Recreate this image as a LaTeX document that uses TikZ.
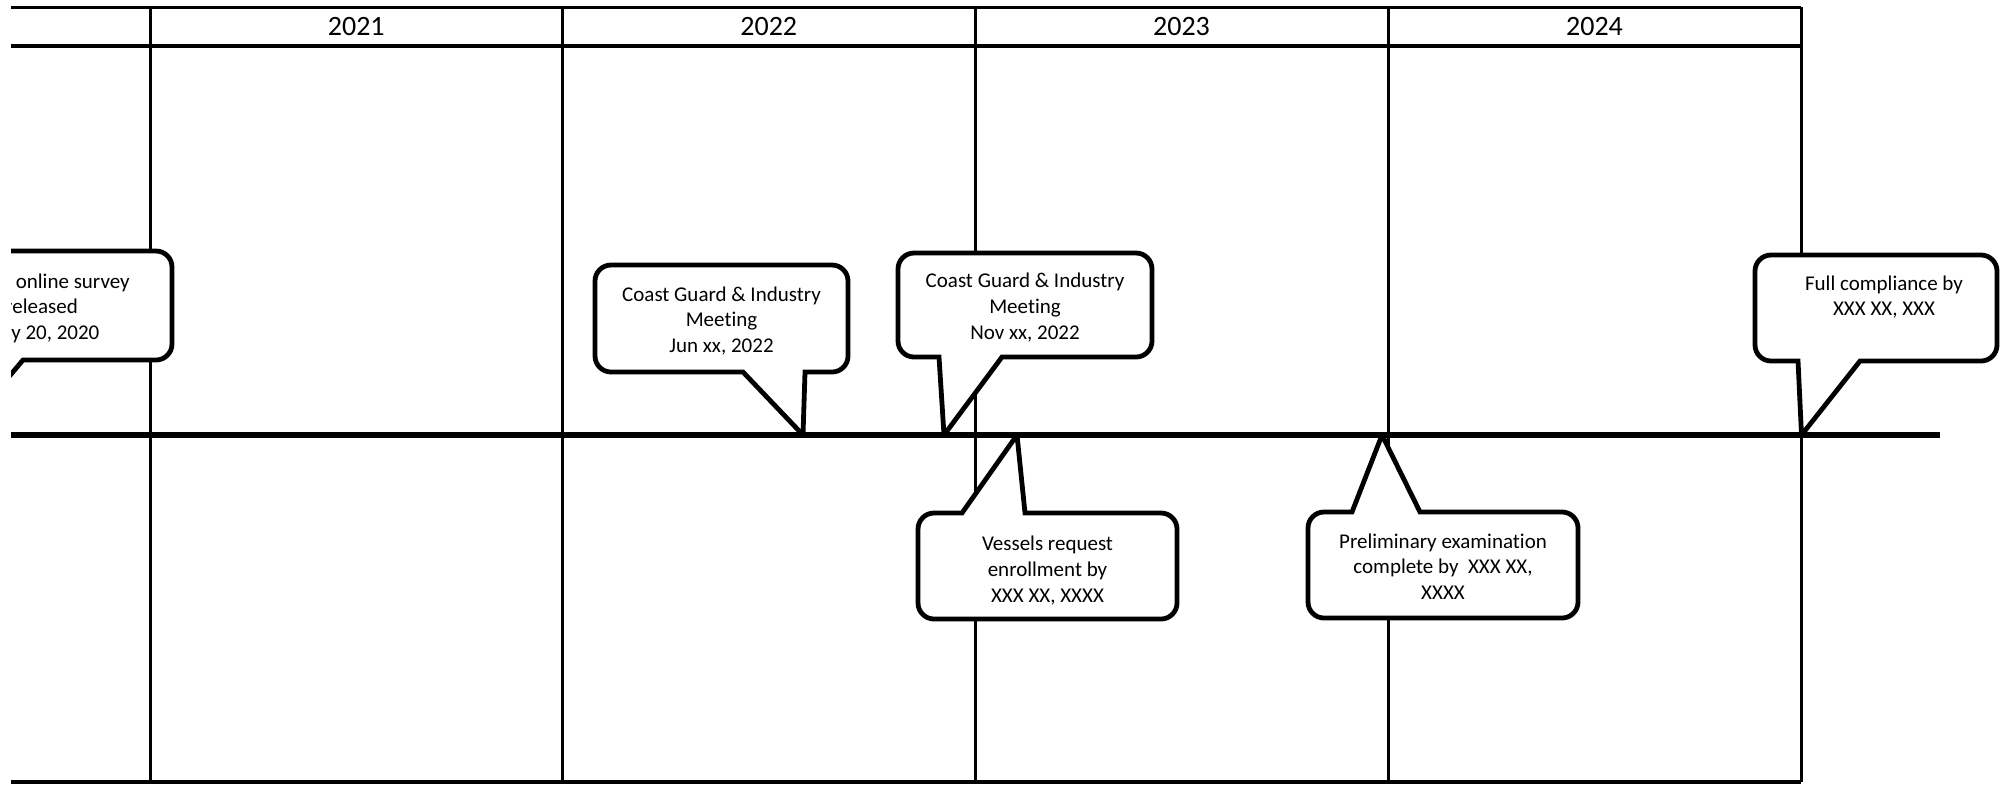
\documentclass[tikz,border=0pt]{standalone}
\usepackage{fontspec}
\setmainfont{Carlito}[Ligatures=NoCommon]
\newcommand\CallBot[8]{% x1 y1 x2 y2 baseLeft tipX tipY baseRight (tail below)
  \filldraw[callout] (#1,{#2+16}) arc[start angle=180,end angle=90,radius=8pt]
    -- ({#3-16},#2) arc[start angle=90,end angle=0,radius=8pt]
    -- (#3,{#4-16}) arc[start angle=0,end angle=-90,radius=8pt]
    -- (#8,#4) -- (#6,#7) -- (#5,#4)
    -- ({#1+16},#4) arc[start angle=-90,end angle=-180,radius=8pt] -- cycle;}
\newcommand\CallTop[8]{% x1 y1 x2 y2 baseLeft tipX tipY baseRight (tail above)
  \filldraw[callout] (#1,{#2+16}) arc[start angle=180,end angle=90,radius=8pt]
    -- (#5,#2) -- (#6,#7) -- (#8,#2)
    -- ({#3-16},#2) arc[start angle=90,end angle=0,radius=8pt]
    -- (#3,{#4-16}) arc[start angle=0,end angle=-90,radius=8pt]
    -- ({#1+16},#4) arc[start angle=-90,end angle=-180,radius=8pt] -- cycle;}
\begin{document}
\begin{tikzpicture}[x=0.5pt,y=-0.5pt,
  callout/.style={draw=black, fill=white, line width=2.4pt, miter limit=2},
  vline/.style={line width=1.5pt},
  topline/.style={line width=1.5pt},
  hline/.style={line width=2pt},
  timeline/.style={line width=3pt},
  lbl/.style={align=center, inner sep=0pt, font=\fontsize{10.5pt}{12.8pt}\selectfont},
  year/.style={inner sep=0pt, font=\fontsize{14pt}{16pt}\selectfont}]
\useasboundingbox (0,0) rectangle (2000,784);
\begin{scope}
\clip (11,-5) rectangle (2000,790);
% table grid
\draw[topline] (0,7) -- (1801,7);
\draw[hline] (0,46) -- (1801,46);
\draw[hline] (0,782) -- (1801,782);
\foreach \xx in {150,562.5,975,1388,1801}
  \draw[vline] (\xx,7) -- (\xx,782);
% year labels
\node[year] (y2021) at (356.25,26.5) {2021};
\node[year] (y2022) at (768.75,26.5) {2022};
\node[year] (y2023) at (1181.5,26.5) {2023};
\node[year] (y2024) at (1594.5,26.5) {2024};
% callouts
\CallBot{-89}{251}{172}{360}{-50}{-40}{435}{23}
\node[lbl] (survey) at (41.5,308) {Owner online survey\\released\\May 20, 2020};
\CallBot{595}{265}{848}{372}{743}{803}{435}{805}
\node[lbl] (jun) at (721.5,321) {Coast Guard \& Industry\\Meeting\\Jun xx, 2022};
\CallBot{898}{253}{1152}{357}{939}{944}{435}{1002}
\node[lbl] (nov) at (1025,307.5) {Coast Guard \& Industry\\Meeting\\Nov xx, 2022};
\CallTop{918}{513}{1177}{619}{962}{1017}{435}{1025}
\node[lbl] (vessels) at (1047.5,570.5) {Vessels request\\enrollment by\\XXX XX, XXXX};
\CallTop{1308}{512}{1578}{618}{1352}{1382}{435}{1420}
\node[lbl] (prelim) at (1443,566.5) {Preliminary examination\\complete by~~XXX XX,\\XXXX};
\CallBot{1755}{255}{1997}{361}{1798}{1801.5}{435}{1860}
\node[lbl] (full) at (1884,297) {Full compliance by\\XXX XX, XXX};
% timeline
\coordinate (tl0) at (0,435);
\coordinate (tl1) at (1940,435);
\draw[timeline] (tl0) -- (tl1);
\end{scope}
\end{tikzpicture}
\end{document}
